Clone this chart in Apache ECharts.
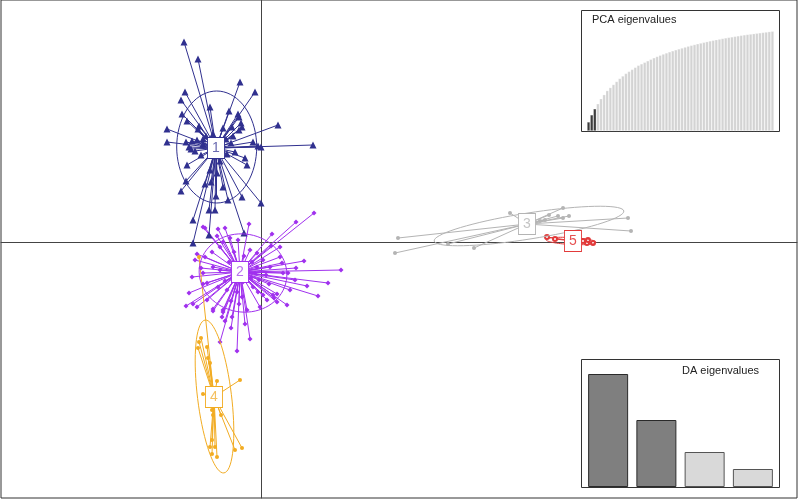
<!DOCTYPE html>
<html>
<head>
<meta charset="utf-8">
<script src="https://cdn.jsdelivr.net/npm/echarts@6/dist/echarts.min.js"></script>
<style>
html,body{margin:0;padding:0;background:#fff}
#chart{width:798px;height:499px}
</style>
</head>
<body>
<div id="chart"></div>
<script>
// cluster names and centroids (LD1, LD2)
var clusterNames = ['1', '2', '3', '4', '5'];
var centroids = [[-4.5, 9.4], [-2.1, -3.0], [26.6, 1.8], [-4.7, -15.5], [31.2, 0.1]];

// individual scores per cluster
var pts1 = [[-7.7,20.0],[-6.3,18.3],[-2.1,16.0],[-0.6,15.0],[-7.6,15.0],[-8.0,14.2],[-5.1,13.5],[-7.9,12.8],[-7.4,12.1],[-6.2,11.6],
    [-6.3,11.3],[-2.3,12.8],[-2.2,12.5],[-2.0,11.9],[-1.9,11.5],[-2.2,11.2],[-2.9,11.5],[-3.8,11.4],[-9.4,11.3],[-9.4,10.0],
    [-7.5,10.0],[-7.2,9.5],[-6.9,10.1],[-6.4,10.2],[-5.8,10.3],[-0.8,10.0],[-0.3,9.6],[-6.6,9.1],[-7.4,7.7],[-4.1,8.1],
    [-3.4,8.8],[-1.4,7.7],[-5.1,7.2],[-4.4,6.9],[1.7,11.7],[5.2,9.7],[0.0,9.5],[-7.5,6.1],[-8.0,5.1],[-1.9,4.5],
    [0.0,3.9],[-4.5,4.6],[-3.3,4.2],[-5.2,3.2],[-4.6,3.2],[-6.8,2.2],[-5.2,0.7],[-6.8,-0.1],[-1.7,0.9],[-5.8,9.8],
    [-3.5,10.3],[-3.0,9.9],[-6.0,8.7],[-4.8,10.8],[-5.5,10.6],[-2.8,10.6],[-7.0,9.3],[-5.0,6.0],[-3.8,5.5],[-5.6,5.8],
    [-3.2,13.1],[-2.6,9.0],[-1.6,8.4]];
var pts2 = [[5.3,2.9],[3.5,2.0],[1.0,-0.4],[3.5,-2.6],[8.0,-2.8],[6.7,-4.1],[5.7,-5.4],[4.6,-4.4],[2.6,-6.3],[1.6,-6.0],
    [1.3,-5.6],[-5.8,1.5],[-5.6,1.4],[-4.3,1.3],[-3.6,1.4],[-6.4,-1.2],[-7.2,-5.1],[-7.5,-6.4],[-6.8,-6.2],[-4.8,-6.9],
    [-3.8,-7.0],[-3.6,-7.9],[-5.8,-4.2],[1.9,-0.5],[1.9,-1.5],[2.7,-3.1],[-4.8,-6.7],[-4.1,-10.0],[-2.4,-10.9],[-1.1,-9.7],
    [-1.2,1.8],[1.1,0.8],[3.4,-3.8],[2.1,-2.1],[2.2,-3.1],[1.2,-5.3],[1.6,-5.2],[-6.4,-6.5],[-5.4,-5.8],[-3.8,-6.8],
    [-3.9,-7.5],[-2.9,-7.5],[-1.4,-6.8],[-0.1,-6.5],[0.6,-5.8],[0.2,-5.3],[-5.4,-4.1],[-5.8,-3.1],[-6.9,-3.5],[-6.6,-1.8],
    [-5.6,-1.5],[-4.9,-1.0],[-4.1,-0.5],[-3.8,0.0],[-3.1,0.4],[-2.3,0.2],[-1.1,-0.8],[-0.4,-1.1],[0.2,-1.8],[0.9,-2.5],
    [-4.8,-2.5],[-4.1,-2.8],[-4.3,-4.5],[-3.4,-4.8],[-2.4,-5.0],[-1.9,-5.5],[-0.8,-4.5],[-0.6,-3.1],[-0.4,-2.5],[-0.3,-5.0],
    [-3.0,-8.6],[-1.6,-8.2],[-1.5,-2.5],[-2.8,-3.4],[-1.0,-3.6],[-2.6,-2.2],[-0.2,-3.8],[-3.2,-2.0],[-1.8,-4.0],[0.5,-3.3],
    [-3.6,-3.9],[0.8,-4.2],[-2.7,-1.0],[-1.7,-1.4],[-0.9,-2.0],[-3.0,-5.9],[-2.2,-6.2],[4.3,-1.9],[2.9,-4.8],[-6.0,-2.6],
    [-4.4,0.6]];
var pts3 = [[13.7,0.4],[13.4,-1.1],[18.7,-0.2],[21.3,-0.6],[24.9,2.9],[30.2,3.4],[28.8,2.7],[29.7,2.6],[30.2,2.4],[30.8,2.6],
    [36.7,2.4],[37.0,1.1],[28.4,2.2],[27.9,2.1]];
var pts4 = [[-6.2,-10.0],[-6.3,-10.6],[-5.4,-10.5],[-5.3,-11.6],[-5.1,-12.1],[-4.4,-13.9],[-2.1,-13.8],[-5.8,-15.2],[-4.9,-16.8],[-4.8,-17.3],
    [-4.0,-17.3],[-5.1,-20.5],[-4.6,-20.5],[-4.9,-21.2],[-4.4,-21.5],[-2.6,-20.8],[-1.9,-20.6],[-6.2,-1.5],[-6.0,-9.6],[-4.9,-19.8]];
var pts5 = [[28.6,0.5],[29.4,0.3],[32.2,0.1],[32.6,-0.1],[33.2,-0.1],[32.7,0.2]];

// inertia ellipses: cx, cy, a, b, angle(deg)
var ellipses = [[-4.43, 9.5, 4.0, 5.6, 0], [-1.8, -3.1, 4.4, 3.9, -10], [26.8, 1.6, 9.6, 1.3, 9],
    [-4.65, -15.45, 7.7, 1.7, 97], [31.0, 0.1, 2.5, 0.35, -3]];

// screeplots
var pcaCumVar = [9,16,22,27,32,36,40,43,46,49,52,54.5,57,59,61,63,65,66.5,68,69.5,
    71,72.5,73.8,75,76.2,77.3,78.4,79.4,80.4,81.3,82.2,83.1,84,84.8,85.6,86.4,87.1,87.8,88.5,89.2,
    89.8,90.4,91,91.6,92.2,92.7,93.2,93.7,94.2,94.7,95.2,95.6,96,96.4,96.8,97.2,97.6,98,98.4,98.8];
var pcaRetained = 3;
var daEig = [113, 67, 35, 18];
var daRetained = 2;

// styles
var colors = ['#30308f', '#a030ee', '#b4b4b4', '#f2ac22', '#e23a3a'];
var labelColors = ['#6a6ab0', '#b870f0', '#c4c4c4', '#f4c060', '#e65050'];
var symbols = ['triangle', 'diamond', 'circle', 'circle', 'emptyCircle'];
var symSizes = [7, 5, 4, 4, 4];

var allPts = [pts1, pts2, pts3, pts4, pts5];
var series = [];

for (var k = 0; k < allPts.length; k++) {
    var segs = [];
    for (var i = 0; i < allPts[k].length; i++) {
        segs.push({coords: [centroids[k], allPts[k][i]]});
    }
    series.push({
        type: 'lines', coordinateSystem: 'cartesian2d', xAxisIndex: 0, yAxisIndex: 0,
        data: segs, silent: true, z: 2,
        lineStyle: {color: colors[k], width: 1, opacity: 1, curveness: 0}
    });
    series.push({
        type: 'scatter', xAxisIndex: 0, yAxisIndex: 0, data: allPts[k], silent: true, z: 3,
        symbol: symbols[k], symbolSize: symSizes[k],
        itemStyle: k == 4 ? {color: colors[k], borderColor: colors[k], borderWidth: 1, opacity: 1} : {color: colors[k], opacity: 1}
    });
}

// ellipses
series.push({
    type: 'custom', xAxisIndex: 0, yAxisIndex: 0, silent: true, z: 4,
    data: ellipses,
    renderItem: function (params, api) {
        var cx = api.value(0), cy = api.value(1), a = api.value(2), b = api.value(3);
        var th = api.value(4) * Math.PI / 180;
        var pts = [];
        for (var j = 0; j <= 72; j++) {
            var t = j / 72 * Math.PI * 2;
            var x = cx + a * Math.cos(t) * Math.cos(th) - b * Math.sin(t) * Math.sin(th);
            var y = cy + a * Math.cos(t) * Math.sin(th) + b * Math.sin(t) * Math.cos(th);
            pts.push(api.coord([x, y]));
        }
        return {type: 'polyline', shape: {points: pts}, style: {stroke: colors[params.dataIndex], fill: null, lineWidth: 1}};
    }
});

// label boxes at centroids
var boxData = [];
for (var k = 0; k < centroids.length; k++) {
    boxData.push({
        value: centroids[k], name: clusterNames[k],
        itemStyle: {color: '#fff', borderColor: colors[k], borderWidth: 1, opacity: 1},
        label: {color: labelColors[k]}
    });
}
series.push({
    type: 'scatter', xAxisIndex: 0, yAxisIndex: 0, silent: true, z: 6,
    symbol: 'rect', symbolSize: [17, 21], data: boxData,
    label: {show: true, position: 'inside', formatter: '{b}', fontSize: 14, fontFamily: 'Liberation Sans'}
});

// PCA eigenvalues inset
var pcaCats = [], pcaData = [];
for (var i = 0; i < pcaCumVar.length; i++) {
    pcaCats.push('PC' + (i + 1));
    pcaData.push({value: pcaCumVar[i], itemStyle: {color: i < pcaRetained ? '#3c3c3c' : '#d3d3d3'}});
}
series.push({
    type: 'bar', xAxisIndex: 1, yAxisIndex: 1, data: pcaData, silent: true, z: 5,
    barCategoryGap: '0%',
    itemStyle: {borderColor: 'rgba(255,255,255,0.45)', borderWidth: 0.6}
});

// DA eigenvalues inset
var daCats = [], daData = [];
for (var i = 0; i < daEig.length; i++) {
    daCats.push('LD' + (i + 1));
    daData.push({value: daEig[i], itemStyle: {
        color: i < daRetained ? '#7f7f7f' : '#d9d9d9',
        borderColor: i < daRetained ? '#2a2a2a' : '#555', borderWidth: 1}});
}
series.push({
    type: 'bar', xAxisIndex: 2, yAxisIndex: 2, data: daData, silent: true, z: 5,
    barWidth: 40
});

var hidden = {axisLine: {show: false}, axisTick: {show: false}, axisLabel: {show: false}, splitLine: {show: false}};

var option = {
    animation: false,
    backgroundColor: '#fff',
    grid: [
        {left: 1, right: 1, top: 0, bottom: 1, show: true, borderColor: '#333', borderWidth: 1},
        {left: 587, top: 30, width: 187, height: 101},
        {left: 584, top: 359, width: 193, height: 128}
    ],
    xAxis: [
        {type: 'value', gridIndex: 0, min: -26, max: 53.6,
            axisLine: {show: true, onZero: true, lineStyle: {color: '#444', width: 1}},
            axisTick: {show: false}, axisLabel: {show: false}, splitLine: {show: false}},
        Object.assign({type: 'category', gridIndex: 1, data: pcaCats}, hidden),
        Object.assign({type: 'category', gridIndex: 2, data: daCats}, hidden)
    ],
    yAxis: [
        {type: 'value', gridIndex: 0, min: -25.6, max: 24.2,
            axisLine: {show: true, onZero: true, lineStyle: {color: '#444', width: 1}},
            axisTick: {show: false}, axisLabel: {show: false}, splitLine: {show: false}},
        Object.assign({type: 'value', gridIndex: 1, min: 0, max: 100}, hidden),
        Object.assign({type: 'value', gridIndex: 2, min: 0, max: 128}, hidden)
    ],
    graphic: [
        {type: 'rect', shape: {x: 581.5, y: 10.5, width: 198, height: 121}, style: {fill: '#fff', stroke: '#333', lineWidth: 1}, z: 1},
        {type: 'rect', shape: {x: 581.5, y: 359.5, width: 198, height: 128}, style: {fill: '#fff', stroke: '#333', lineWidth: 1}, z: 1},
        {type: 'text', x: 592, y: 14, style: {text: 'PCA eigenvalues', font: '11px "Liberation Sans"', fill: '#222'}, z: 10},
        {type: 'text', x: 682, y: 365, style: {text: 'DA eigenvalues', font: '11px "Liberation Sans"', fill: '#222'}, z: 10}
    ],
    series: series
};

var myChart = echarts.init(document.getElementById('chart'));
myChart.setOption(option);
</script>
</body>
</html>
